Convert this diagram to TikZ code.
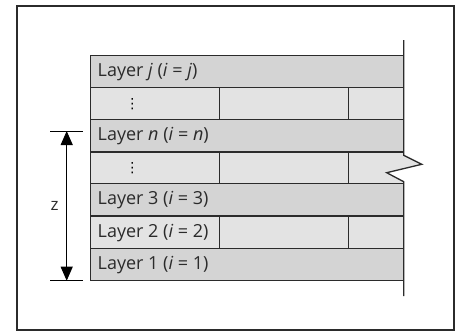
\documentclass[tikz,border=0pt]{standalone}
\usepackage{fontspec}
\setmainfont{Open Sans}
\newfontfamily\symfont{DejaVu Sans}
\usetikzlibrary{arrows.meta}
\definecolor{darkrow}{HTML}{D4D4D4}
\definecolor{lightrow}{HTML}{E3E3E3}
\definecolor{ink}{HTML}{2B2B2B}
\begin{document}
\begin{tikzpicture}[x=1pt,y=-1pt,
  edge/.style={draw=ink,line width=1.3pt},
  rowtext/.style={anchor=west,inner sep=0pt,font=\fontsize{18}{18}\selectfont,text=ink},
  dots/.style={inner sep=0pt,text=black,font=\symfont\fontsize{14}{14}\selectfont},
  dimline/.style={draw=black,line width=1pt},
  dimarrow/.style={draw=black,line width=1pt,{Triangle[length=14pt,width=12pt]}-{Triangle[length=14pt,width=12pt]}}]
\useasboundingbox (0,0) rectangle (459,333);
% outer frame
\draw[edge,line width=1.2pt] (17,6) rectangle (454,330);
% layer fills
\fill[darkrow]  (90.7,55.3)  rectangle (403.7,87.7);
\fill[lightrow] (90.7,87.7)  rectangle (403.7,119.7);
\fill[darkrow]  (90.7,119.7) rectangle (403.7,152);
\fill[lightrow] (90.7,152) -- (403.7,152) -- (403.7,155.3) -- (421.7,164.3)
   -- (386.7,172.7) -- (403.7,181.7) -- (403.7,183.7) -- (90.7,183.7) -- cycle;
\fill[darkrow]  (90.7,183.7) rectangle (403.7,216);
\fill[lightrow] (90.7,216)   rectangle (403.7,248.3);
\fill[darkrow]  (90.7,248.3) rectangle (403.7,280.7);
% horizontal boundaries and left edge
\draw[edge] (403.7,55.3) -- (90.7,55.3) -- (90.7,280.7) -- (403.7,280.7);
\foreach \y in {87.7,119.7,152,183.7,216,248.3}
  \draw[edge] (90.7,\y) -- (403.7,\y);
% column joints in the light layers
\foreach \ya/\yb in {87.7/119.7,152/183.7,216/248.3}{
  \draw[edge] (219.7,\ya) -- (219.7,\yb);
  \draw[edge] (348.3,\ya) -- (348.3,\yb);
}
% right boundary with break mark
\draw[edge] (403.7,40) -- (403.7,155.3) -- (421.7,164.3) -- (386.7,172.7)
   -- (403.7,181.7) -- (403.7,296);
% labels
\node[rowtext] (lj) at (97.5,72)  {Layer \textit{j} (\textit{i} = \textit{j})};
\node[dots] (d1) at (132.3,103.7) {⋮};
\node[rowtext] (ln) at (97.5,136.3) {Layer \textit{n} (\textit{i} = \textit{n})};
\node[dots] (d2) at (132.3,168) {⋮};
\node[rowtext] (l3) at (97.5,200.3) {Layer 3 (\textit{i} = 3)};
\node[rowtext] (l2) at (97.5,232.7) {Layer 2 (\textit{i} = 2)};
\node[rowtext] (l1) at (97.5,265) {Layer 1 (\textit{i} = 1)};
% thickness dimension
\coordinate (ztop) at (66.7,131);
\coordinate (zbot) at (66.7,280.7);
\draw[dimline] (50,131) -- (82.7,131);
\draw[dimline] (50,280.7) -- (82.7,280.7);
\draw[dimarrow] (ztop) -- (zbot);
\node[inner sep=0pt,font=\fontsize{17}{17}\selectfont,text=ink] (z) at (54.5,206) {z};
\end{tikzpicture}
\end{document}
